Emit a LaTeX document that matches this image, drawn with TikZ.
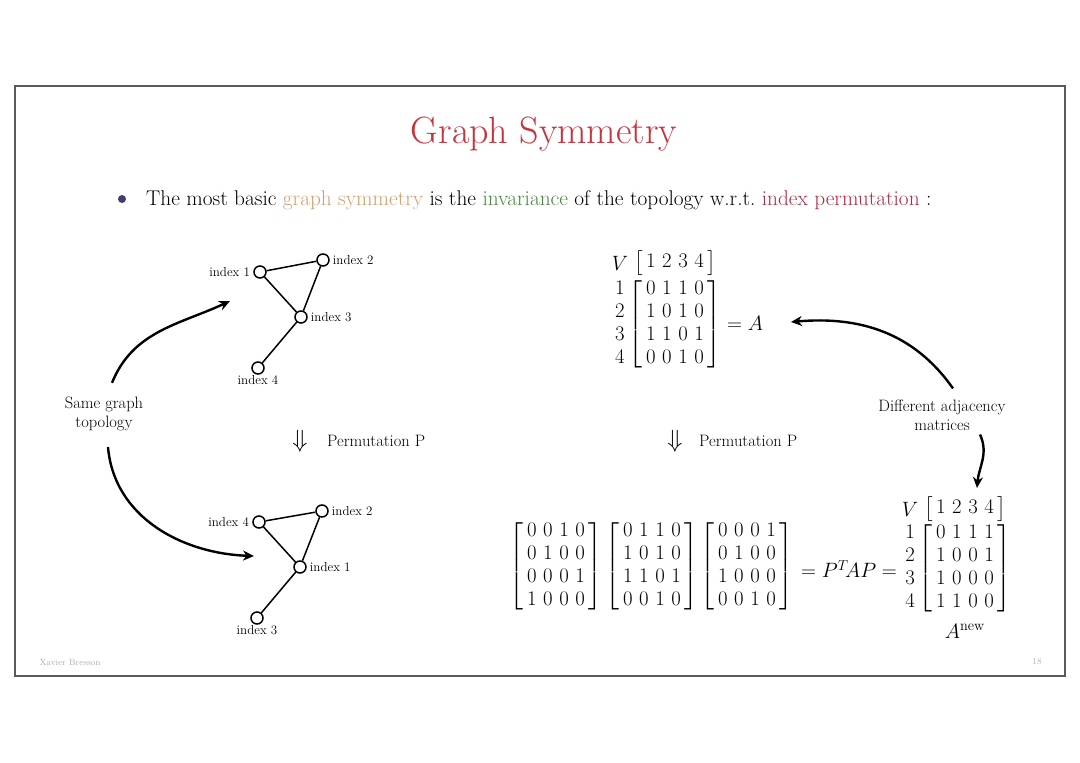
\documentclass[tikz,border=0pt]{standalone}
\usepackage{amsmath}
\usetikzlibrary{arrows.meta}
\definecolor{titlered}{RGB}{198,52,62}
\definecolor{tan}{RGB}{212,158,108}
\definecolor{invgreen}{RGB}{72,136,62}
\definecolor{idxred}{RGB}{178,42,62}
\definecolor{ballblue}{RGB}{62,62,112}
\definecolor{framegray}{RGB}{90,90,90}
\definecolor{footgray}{RGB}{175,175,175}
\newcommand{\mxb}[1]{{\setlength\arraycolsep{3.3pt}$\left[\begin{array}{cccc}#1\end{array}\right]$}}
\newcommand{\mxl}{{$\begin{array}{@{}c@{}}1\\2\\3\\4\end{array}$}}
\begin{document}
\begin{tikzpicture}[x=1pt,y=-1pt,
  vert/.style={circle,draw,line width=1.5pt,minimum size=12pt,inner sep=0pt,fill=white},
  lab/.style={font=\fontsize{13}{15}\selectfont,inner sep=3pt},
  edge/.style={line width=1.5pt},
  bigarrow/.style={line width=2.4pt,-{Stealth[length=11pt,width=10pt]}},
  txt/.style={font=\fontsize{16.5}{19}\selectfont,align=center,inner sep=1pt},
  mat/.style={font=\fontsize{19.5}{23}\selectfont,inner sep=0pt},
  dn/.style={font=\fontsize{27}{30}\selectfont,inner sep=0pt}
]
\useasboundingbox (0,0) rectangle (1080,763);
\fill[white] (0,0) rectangle (1080,763);
\draw[framegray,line width=1.5pt] (15,86) rectangle (1065,676);

% title
\node[font=\fontsize{38}{44}\selectfont,text=titlered] (title) at (544,134) {Graph Symmetry};

% bullet
\fill[ballblue] (122,199) circle (4pt);
\node[anchor=west,font=\fontsize{21.3}{24}\selectfont,inner sep=0pt] (bullet) at (146,200)
  {The most basic \textcolor{tan}{graph symmetry} is the \textcolor{invgreen}{invariance} of the topology w.r.t.\ \textcolor{idxred}{index permutation} :};

% top graph
\node[vert] (t1) at (260,272) {};
\node[vert] (t2) at (323,260) {};
\node[vert] (t3) at (301,317) {};
\node[vert] (t4) at (258,368) {};
\draw[edge] (t1) -- (t2) (t1) -- (t3) (t2) -- (t3) (t3) -- (t4);
\node[lab,anchor=east] (lt1) at (t1.west) {index 1};
\node[lab,anchor=west] (lt2) at (t2.east) {index 2};
\node[lab,anchor=west] (lt3) at (t3.east) {index 3};
\node[lab,anchor=north] (lt4) at ([yshift=2pt]t4.south) {index 4};

% bottom graph
\node[vert] (b4) at (259,522) {};
\node[vert] (b2) at (322,511) {};
\node[vert] (b1) at (300,567) {};
\node[vert] (b3) at (257,618) {};
\draw[edge] (b4) -- (b2) (b4) -- (b1) (b2) -- (b1) (b1) -- (b3);
\node[lab,anchor=east] (lb4) at (b4.west) {index 4};
\node[lab,anchor=west] (lb2) at (b2.east) {index 2};
\node[lab,anchor=west] (lb1) at (b1.east) {index 1};
\node[lab,anchor=north] (lb3) at ([yshift=2pt]b3.south) {index 3};

% same graph topology
\node[txt] (same) at (104,414) {Same graph\\topology};
\coordinate (tipA) at (230,301);
\coordinate (tipB) at (254,556);
\draw[bigarrow] (same.north)++(8,-13) to[out=68,in=205] (tipA);
\draw[bigarrow] (same.south)++(4,15) to[out=-85,in=178] (tipB);

% permutation arrows
\node[dn] (dl) at (300,441) {$\Downarrow$};
\node[txt,anchor=west] (pl) at (326,441) {Permutation P};
\node[dn] (dr) at (675,441) {$\Downarrow$};
\node[txt,anchor=west] (pr) at (698,441) {Permutation P};

% matrix A
\node[mat] (A) at (675,324) {\mxb{0&1&1&0\\1&0&1&0\\1&1&0&1\\0&0&1&0}};
\node[mat] (Arl) at (620,324) {\mxl};
\node[mat] (Ah) at (675,263) {\mxb{1&2&3&4}};
\node[mat] (AV) at (620,263) {$V$};
\node[mat,anchor=west] (Aeq) at (727,323) {$=A$};

% different adjacency
\node[txt] (diff) at (942,415) {Different adjacency\\matrices};
\coordinate (tipC) at (791,322);
\draw[bigarrow] (diff.north)++(11,-10) to[out=125,in=5] (tipC);
\coordinate (tipD) at (977,488);
\draw[bigarrow] (diff.south)++(38,3) to[out=-65,in=85] (tipD);

% bottom product
\node[mat] (M1) at (556,566) {\mxb{0&0&1&0\\0&1&0&0\\0&0&0&1\\1&0&0&0}};
\node[mat] (M2) at (652,566) {\mxb{0&1&1&0\\1&0&1&0\\1&1&0&1\\0&0&1&0}};
\node[mat] (M3) at (747,566) {\mxb{0&0&0&1\\0&1&0&0\\1&0&0&0\\0&0&1&0}};
\node[mat] (eq) at (849,569) {$=P^T\!AP=$};

% A new
\node[mat] (N) at (965,568) {\mxb{0&1&1&1\\1&0&0&1\\1&0&0&0\\1&1&0&0}};
\node[mat] (Nrl) at (910,568) {\mxl};
\node[mat] (Nh) at (965,509) {\mxb{1&2&3&4}};
\node[mat] (NV) at (910,509) {$V$};
\node[mat] (Nlab) at (965,631) {$A^{\mathrm{new}}$};

% footer
\node[font=\fontsize{9}{10}\selectfont,text=footgray,anchor=west] (foot) at (36,662) {Xavier Bresson};
\node[font=\fontsize{9}{10}\selectfont,text=footgray] (page) at (1037,662) {18};
\end{tikzpicture}
\end{document}
